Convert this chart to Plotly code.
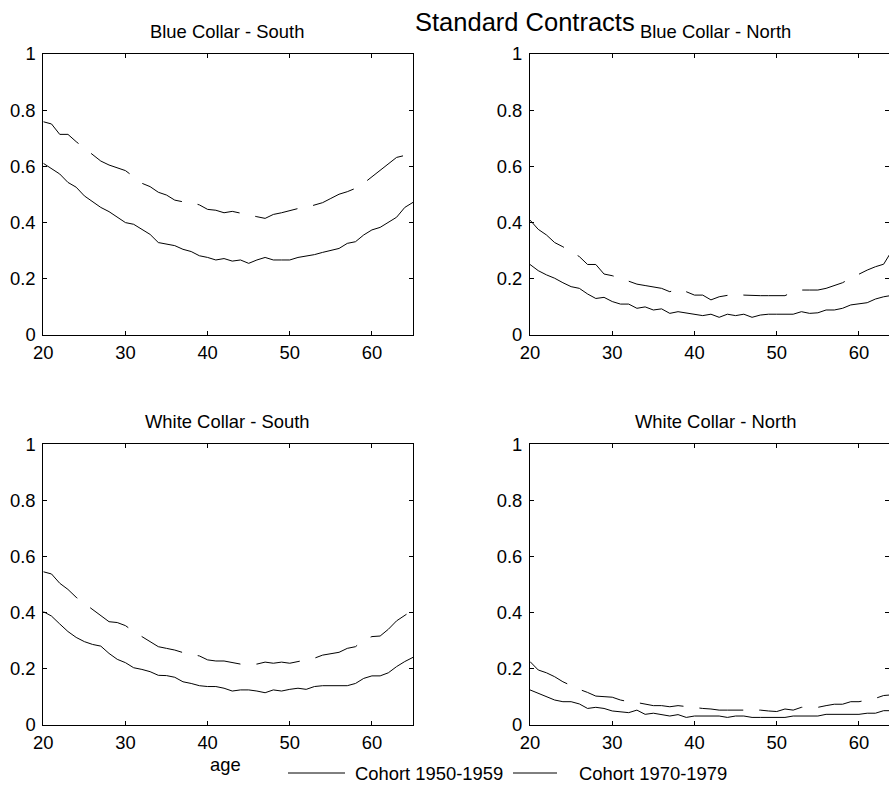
import plotly.graph_objects as go

# ---------------- data ----------------
ages = list(range(20, 66))

panel_titles = ["Blue Collar - South", "Blue Collar - North",
                "White Collar - South", "White Collar - North"]
series_names = ["Cohort 1950-1959", "Cohort 1970-1979"]
main_title = "Standard Contracts"
x_label = "age"
x_ticks = [20, 30, 40, 50, 60]
y_ticks = [0, 0.2, 0.4, 0.6, 0.8, 1]

bc_south_5059 = [0.611, 0.593, 0.573, 0.543, 0.526, 0.495, 0.474, 0.454, 0.439, 0.419,
                 0.400, 0.394, 0.376, 0.358, 0.329, 0.324, 0.318, 0.305, 0.297, 0.282,
                 0.276, 0.267, 0.272, 0.263, 0.267, 0.255, 0.267, 0.276, 0.267, 0.267,
                 0.267, 0.276, 0.281, 0.286, 0.294, 0.302, 0.308, 0.326, 0.332, 0.356,
                 0.374, 0.383, 0.400, 0.419, 0.454, 0.472]
bc_south_7079 = [0.759, 0.751, 0.714, 0.714, 0.688, 0.664, 0.641, 0.619, 0.605, 0.595,
                 0.585, 0.563, 0.540, 0.528, 0.508, 0.498, 0.480, 0.474, 0.472, 0.463,
                 0.447, 0.444, 0.435, 0.440, 0.433, 0.427, 0.421, 0.415, 0.429, 0.435,
                 0.442, 0.450, 0.454, 0.463, 0.471, 0.486, 0.501, 0.510, 0.522, 0.540,
                 0.563, 0.585, 0.607, 0.632, 0.639, 0.655]

bc_north_5059 = [0.251, 0.229, 0.214, 0.202, 0.186, 0.172, 0.166, 0.146, 0.130, 0.134,
                 0.119, 0.110, 0.110, 0.095, 0.100, 0.089, 0.093, 0.077, 0.083, 0.079,
                 0.075, 0.069, 0.074, 0.063, 0.074, 0.069, 0.074, 0.063, 0.071, 0.074,
                 0.074, 0.074, 0.074, 0.083, 0.077, 0.079, 0.089, 0.089, 0.095, 0.107,
                 0.110, 0.115, 0.128, 0.136, 0.141, 0.145]
bc_north_7079 = [0.409, 0.376, 0.356, 0.329, 0.314, 0.297, 0.279, 0.251, 0.251, 0.217,
                 0.211, 0.202, 0.192, 0.181, 0.176, 0.172, 0.166, 0.154, 0.165, 0.154,
                 0.142, 0.142, 0.125, 0.136, 0.142, 0.146, 0.142, 0.140, 0.140, 0.140,
                 0.140, 0.140, 0.154, 0.160, 0.160, 0.160, 0.166, 0.176, 0.186, 0.202,
                 0.217, 0.231, 0.243, 0.252, 0.300, 0.320]

wc_south_5059 = [0.404, 0.388, 0.360, 0.333, 0.312, 0.297, 0.287, 0.281, 0.255, 0.234,
                 0.222, 0.204, 0.198, 0.190, 0.177, 0.176, 0.170, 0.154, 0.148, 0.140,
                 0.137, 0.137, 0.131, 0.121, 0.125, 0.125, 0.121, 0.115, 0.125, 0.121,
                 0.127, 0.131, 0.127, 0.137, 0.140, 0.140, 0.140, 0.140, 0.148, 0.166,
                 0.175, 0.175, 0.186, 0.208, 0.226, 0.241]
wc_south_7079 = [0.546, 0.538, 0.505, 0.483, 0.455, 0.433, 0.412, 0.388, 0.368, 0.365,
                 0.354, 0.333, 0.315, 0.300, 0.279, 0.273, 0.267, 0.258, 0.252, 0.246,
                 0.232, 0.228, 0.228, 0.222, 0.217, 0.217, 0.217, 0.224, 0.220, 0.224,
                 0.220, 0.226, 0.232, 0.238, 0.249, 0.253, 0.259, 0.273, 0.279, 0.303,
                 0.315, 0.317, 0.341, 0.371, 0.392, 0.410]

wc_north_5059 = [0.125, 0.113, 0.099, 0.089, 0.083, 0.083, 0.075, 0.059, 0.063, 0.059,
                 0.050, 0.048, 0.044, 0.053, 0.038, 0.042, 0.037, 0.032, 0.037, 0.027,
                 0.032, 0.032, 0.032, 0.032, 0.027, 0.032, 0.032, 0.027, 0.027, 0.027,
                 0.027, 0.027, 0.032, 0.032, 0.032, 0.032, 0.038, 0.038, 0.038, 0.038,
                 0.038, 0.042, 0.042, 0.051, 0.051, 0.055]
wc_north_7079 = [0.226, 0.196, 0.186, 0.172, 0.154, 0.140, 0.127, 0.116, 0.103, 0.101,
                 0.099, 0.089, 0.083, 0.080, 0.075, 0.069, 0.069, 0.065, 0.069, 0.065,
                 0.062, 0.059, 0.057, 0.053, 0.053, 0.053, 0.053, 0.053, 0.053, 0.050,
                 0.048, 0.057, 0.053, 0.063, 0.063, 0.063, 0.069, 0.074, 0.074, 0.083,
                 0.083, 0.089, 0.095, 0.105, 0.107, 0.110]

panels = [(bc_south_5059, bc_south_7079), (bc_north_5059, bc_north_7079),
          (wc_south_5059, wc_south_7079), (wc_north_5059, wc_north_7079)]

# ---------------- styling / layout ----------------
W, H = 889, 785
FONT = "Liberation Sans, Arial, Helvetica, sans-serif"
DASH = "44px,16px"
styles = [dict(color="black", width=1), dict(color="black", width=1, dash=DASH)]

def px_x(p):
    return p / W

def px_y(p):
    return 1 - p / H

# pixel boxes (left, right, top, bottom) of the four axes
boxes = [(43.3, 413.0, 54.0, 335.0), (530.0, 889.0, 54.0, 335.0),
         (43.3, 413.0, 444.3, 725.0), (530.0, 889.0, 444.3, 725.0)]
x_ranges = [[20, 65], [20, 63.65], [20, 65], [20, 63.65]]
title_pos = [(227.0, 32.0), (715.0, 32.0), (227.5, 421.5), (715.0, 421.5)]

fig = go.Figure()

for i, (s1, s2) in enumerate(panels):
    ax = "" if i == 0 else str(i + 1)
    for name, ys, st in zip(series_names, (s1, s2), styles):
        fig.add_trace(go.Scatter(x=ages, y=ys, mode="lines", name=name, line=st,
                                 showlegend=False, xaxis="x" + ax, yaxis="y" + ax,
                                 hoverinfo="x+y+name"))
    l, r, t, b = boxes[i]
    common = dict(showline=True, linecolor="black", linewidth=1, mirror="ticks",
                  ticks="inside", ticklen=4, tickcolor="black", tickwidth=1,
                  showgrid=False, zeroline=False, automargin=False,
                  tickfont=dict(family=FONT, size=18.4, color="black"))
    fig.layout["xaxis" + ax] = dict(domain=[px_x(l), px_x(r)], range=x_ranges[i],
                                    tickvals=x_ticks, anchor="y" + ax,
                                    ticklabelstandoff=1, **common)
    fig.layout["yaxis" + ax] = dict(domain=[px_y(b), px_y(t)], range=[0, 1],
                                    tickvals=y_ticks, ticktext=[f"{v:g}" for v in y_ticks],
                                    anchor="x" + ax, ticklabelstandoff=3, **common)
    tx, ty = title_pos[i]
    fig.add_annotation(text=panel_titles[i], x=px_x(tx), y=px_y(ty), xref="paper",
                       yref="paper", xanchor="center", yanchor="middle", showarrow=False,
                       font=dict(family=FONT, size=18.4, color="black"))

# main title
fig.add_annotation(text=main_title, x=px_x(525), y=px_y(22), xref="paper", yref="paper",
                   xanchor="center", yanchor="middle", showarrow=False,
                   font=dict(family=FONT, size=25.5, color="black"))
# x label
fig.add_annotation(text=x_label, x=px_x(225), y=px_y(764), xref="paper", yref="paper",
                   xanchor="center", yanchor="middle", showarrow=False,
                   font=dict(family=FONT, size=18.4, color="black"))

# legend (drawn like the original: sample line + label)
legend_items = [(288, 345, 353), (513, 557, 577)]
for (x0, x1, tx), name, st in zip(legend_items, series_names, styles):
    fig.add_shape(type="line", xref="paper", yref="paper", x0=px_x(x0), x1=px_x(x1),
                  y0=px_y(773), y1=px_y(773), line=st)
    fig.add_annotation(text=name, x=px_x(tx), y=px_y(773), xref="paper", yref="paper",
                       xanchor="left", yanchor="middle", showarrow=False,
                       font=dict(family=FONT, size=18.4, color="black"))

fig.update_layout(width=W, height=H,
                  margin=dict(l=0, r=0, t=0, b=0, pad=0, autoexpand=False),
                  paper_bgcolor="white", plot_bgcolor="white", showlegend=False,
                  font=dict(family=FONT, size=18.4, color="black"))

fig.write_html("out.html", config={"displayModeBar": False})
